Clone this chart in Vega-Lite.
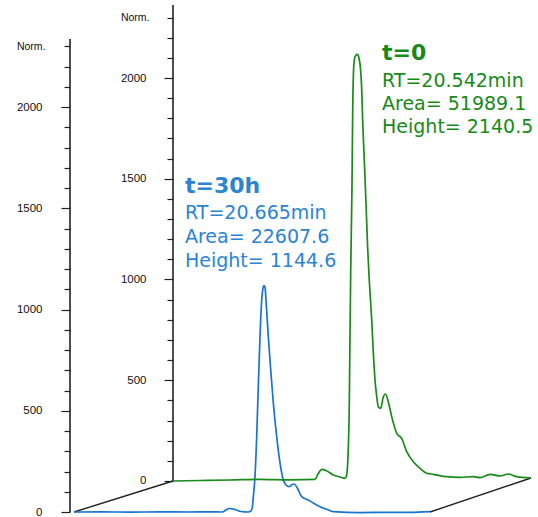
{
  "$schema": "https://vega.github.io/schema/vega-lite/v6.json",
  "width": 468,
  "height": 512,
  "autosize": {"type": "none"},
  "padding": {"left": 70, "top": 0, "right": 0, "bottom": 5},
  "background": "white",
  "config": {"view": {"stroke": null}},
  "datasets": {
    "blue": [
      {"t": 17.300, "v": 0}, {"t": 17.800, "v": 0.5}, {"t": 18.300, "v": -0.5}, {"t": 18.800, "v": 0.5},
      {"t": 19.300, "v": 0}, {"t": 19.700, "v": 1}, {"t": 19.897, "v": 0}, {"t": 20.019, "v": 17.3},
      {"t": 20.124, "v": 12.3}, {"t": 20.230, "v": 2.5}, {"t": 20.353, "v": 0}, {"t": 20.405, "v": 4.9},
      {"t": 20.432, "v": 29.6}, {"t": 20.446, "v": 75.6}, {"t": 20.475, "v": 174.3}, {"t": 20.505, "v": 371.9},
      {"t": 20.533, "v": 618.8}, {"t": 20.563, "v": 865.7}, {"t": 20.593, "v": 1046.9}, {"t": 20.616, "v": 1106},
      {"t": 20.633, "v": 1118.5}, {"t": 20.651, "v": 1111}, {"t": 20.668, "v": 1046.9}, {"t": 20.709, "v": 865.7},
      {"t": 20.751, "v": 701.2}, {"t": 20.797, "v": 538.3}, {"t": 20.856, "v": 371.9}, {"t": 20.914, "v": 242},
      {"t": 20.972, "v": 158}, {"t": 21.019, "v": 133.3}, {"t": 21.072, "v": 124.9}, {"t": 21.116, "v": 133.3},
      {"t": 21.160, "v": 138.3}, {"t": 21.218, "v": 118.5}, {"t": 21.295, "v": 75.6}, {"t": 21.410, "v": 59.3},
      {"t": 21.498, "v": 44.4}, {"t": 21.616, "v": 26.2}, {"t": 21.733, "v": 13.3}, {"t": 21.849, "v": 1.5},
      {"t": 22.318, "v": -3}, {"t": 22.902, "v": -1.5}, {"t": 23.195, "v": -2}, {"t": 23.546, "v": 1.5}
    ],
    "green": [
      {"t": 17.300, "v": 0}, {"t": 17.774, "v": 2.5}, {"t": 18.300, "v": 5}, {"t": 18.826, "v": 8.4},
      {"t": 19.353, "v": 6}, {"t": 19.791, "v": 8.4}, {"t": 19.844, "v": 34.7}, {"t": 19.909, "v": 58.1},
      {"t": 19.984, "v": 52.1}, {"t": 20.112, "v": 29.8}, {"t": 20.230, "v": 19.9}, {"t": 20.318, "v": 13.4},
      {"t": 20.344, "v": 24.8}, {"t": 20.367, "v": 104}, {"t": 20.393, "v": 387.1}, {"t": 20.405, "v": 716.1},
      {"t": 20.418, "v": 1047.1}, {"t": 20.440, "v": 1460.5}, {"t": 20.451, "v": 1791.6}, {"t": 20.468, "v": 2039.7},
      {"t": 20.486, "v": 2097.8}, {"t": 20.511, "v": 2114.1}, {"t": 20.528, "v": 2117.6}, {"t": 20.546, "v": 2114.1},
      {"t": 20.569, "v": 2089.3}, {"t": 20.586, "v": 2056.1}, {"t": 20.609, "v": 1956.8}, {"t": 20.627, "v": 1791.6},
      {"t": 20.656, "v": 1593}, {"t": 20.686, "v": 1378.2}, {"t": 20.714, "v": 1162.8}, {"t": 20.743, "v": 997.5},
      {"t": 20.786, "v": 800}, {"t": 20.814, "v": 640}, {"t": 20.844, "v": 500}, {"t": 20.874, "v": 420},
      {"t": 20.902, "v": 368.7}, {"t": 20.944, "v": 360.8}, {"t": 20.990, "v": 418.4}, {"t": 21.028, "v": 431.8},
      {"t": 21.077, "v": 393.5}, {"t": 21.137, "v": 319.1}, {"t": 21.225, "v": 236.7}, {"t": 21.312, "v": 211.9},
      {"t": 21.400, "v": 145.4}, {"t": 21.516, "v": 95.8}, {"t": 21.634, "v": 63}, {"t": 21.751, "v": 38.2},
      {"t": 21.867, "v": 33.3}, {"t": 22.102, "v": 21.3}, {"t": 22.335, "v": 18.4}, {"t": 22.568, "v": 21.3},
      {"t": 22.686, "v": 16.4}, {"t": 22.861, "v": 33.3}, {"t": 23.037, "v": 24.8}, {"t": 23.183, "v": 34.7},
      {"t": 23.330, "v": 21.3}, {"t": 23.572, "v": 14.9}
    ],
    "diag": [
      {"seg": "a", "t": 17.300, "v": 0}, {"seg": "a", "t": 19.037, "v": 153.1},
      {"seg": "b", "t": 23.546, "v": 0}, {"seg": "b", "t": 25.318, "v": 167.9}
    ],
    "frontAxis": [{"t": 17.2298, "v": 0, "v2": 2336}],
    "backAxis": [{"t": 17.300, "v": 0, "v2": 2362}],
    "blueTitle": [{"t": 19.247, "v": 1575.3, "label": "t=30h"}],
    "blueInfo": [
      {"t": 19.247, "v": 1446.9, "label": "RT=20.665min"},
      {"t": 19.247, "v": 1328.4, "label": "Area= 22607.6"},
      {"t": 19.247, "v": 1209.9, "label": "Height= 1144.6"}
    ],
    "greenTitle": [{"t": 20.967, "v": 2089.3, "label": "t=0"}],
    "greenInfo": [
      {"t": 20.967, "v": 1955.3, "label": "RT=20.542min"},
      {"t": 20.967, "v": 1841.2, "label": "Area= 51989.1"},
      {"t": 20.967, "v": 1727, "label": "Height= 2140.5"}
    ]
  },
  "layer": [
    {
      "encoding": {
        "x": {"field": "t", "type": "quantitative", "scale": {"domain": [17.2298, 25.4403], "nice": false, "zero": false}, "axis": null},
        "y": {"field": "v", "type": "quantitative", "scale": {"domain": [0, 2528.4], "nice": false, "zero": false},
          "axis": {"orient": "left", "title": null, "grid": false, "domain": false,
            "values": [0,100,200,300,400,500,600,700,800,900,1000,1100,1200,1300,1400,1500,1600,1700,1800,1900,2000,2100,2200,2300],
            "format": "d",
            "labelExpr": "datum.value == 2300 ? 'Norm.' : (datum.value % 500 == 0 ? datum.label : '')",
            "tickSize": {"condition": {"test": "datum.value % 500 == 0", "value": 9}, "value": 6},
            "tickColor": "#222", "tickWidth": 1.2,
            "labelPadding": 19, "labelFont": "Liberation Sans", "labelFontSize": {"condition": {"test": "datum.value == 2300", "value": 10.5}, "value": 11.5},
            "labelColor": "#111", "labelOverlap": false, "labelFlush": false}}
      },
      "layer": [
        {"data": {"name": "frontAxis"}, "mark": {"type": "rule", "color": "#222", "strokeWidth": 1.6}, "encoding": {"y2": {"field": "v2"}}},
        {"data": {"name": "diag"}, "mark": {"type": "line", "color": "#222", "strokeWidth": 1.4}, "encoding": {"detail": {"field": "seg"}}},
        {"data": {"name": "blue"}, "mark": {"type": "line", "color": "#1874cd", "strokeWidth": 1.7, "interpolate": "monotone"}, "encoding": {}},
        {"data": {"name": "blueTitle"}, "mark": {"type": "text", "align": "left", "baseline": "alphabetic", "font": "DejaVu Sans", "fontWeight": "bold", "fontSize": 22, "color": "#2a84d2"}, "encoding": {"text": {"field": "label"}}},
        {"data": {"name": "blueInfo"}, "mark": {"type": "text", "align": "left", "baseline": "alphabetic", "font": "DejaVu Sans", "fontSize": 19, "color": "#2a84d2"}, "encoding": {"text": {"field": "label"}}}
      ]
    },
    {
      "encoding": {
        "x": {"field": "t", "type": "quantitative", "scale": {"domain": [15.4930, 23.7035], "nice": false, "zero": false}, "axis": null},
        "y": {"field": "v", "type": "quantitative", "scale": {"domain": [-153.85, 2387.1], "nice": false, "zero": false},
          "axis": {"orient": "left", "offset": -103, "title": null, "grid": false, "domain": false,
            "values": [0,100,200,300,400,500,600,700,800,900,1000,1100,1200,1300,1400,1500,1600,1700,1800,1900,2000,2100,2200,2300],
            "format": "d",
            "labelExpr": "datum.value == 2300 ? 'Norm.' : (datum.value % 500 == 0 ? datum.label : '')",
            "tickSize": {"condition": {"test": "datum.value % 500 == 0", "value": 9}, "value": 6},
            "tickColor": "#222", "tickWidth": 1.2,
            "labelPadding": 18, "labelFont": "Liberation Sans", "labelFontSize": {"condition": {"test": "datum.value == 2300", "value": 10.5}, "value": 11.5},
            "labelColor": "#111", "labelOverlap": false, "labelFlush": false}}
      },
      "layer": [
        {"data": {"name": "backAxis"}, "mark": {"type": "rule", "color": "#222", "strokeWidth": 1.6}, "encoding": {"y2": {"field": "v2"}}},
        {"data": {"name": "green"}, "mark": {"type": "line", "color": "#1a8a1a", "strokeWidth": 1.7, "interpolate": "monotone"}, "encoding": {}},
        {"data": {"name": "greenTitle"}, "mark": {"type": "text", "align": "left", "baseline": "alphabetic", "font": "DejaVu Sans", "fontWeight": "bold", "fontSize": 22, "color": "#178a17"}, "encoding": {"text": {"field": "label"}}},
        {"data": {"name": "greenInfo"}, "mark": {"type": "text", "align": "left", "baseline": "alphabetic", "font": "DejaVu Sans", "fontSize": 19, "color": "#178a17"}, "encoding": {"text": {"field": "label"}}}
      ]
    }
  ],
  "resolve": {"scale": {"x": "independent", "y": "independent"}, "axis": {"x": "independent", "y": "independent"}}
}
